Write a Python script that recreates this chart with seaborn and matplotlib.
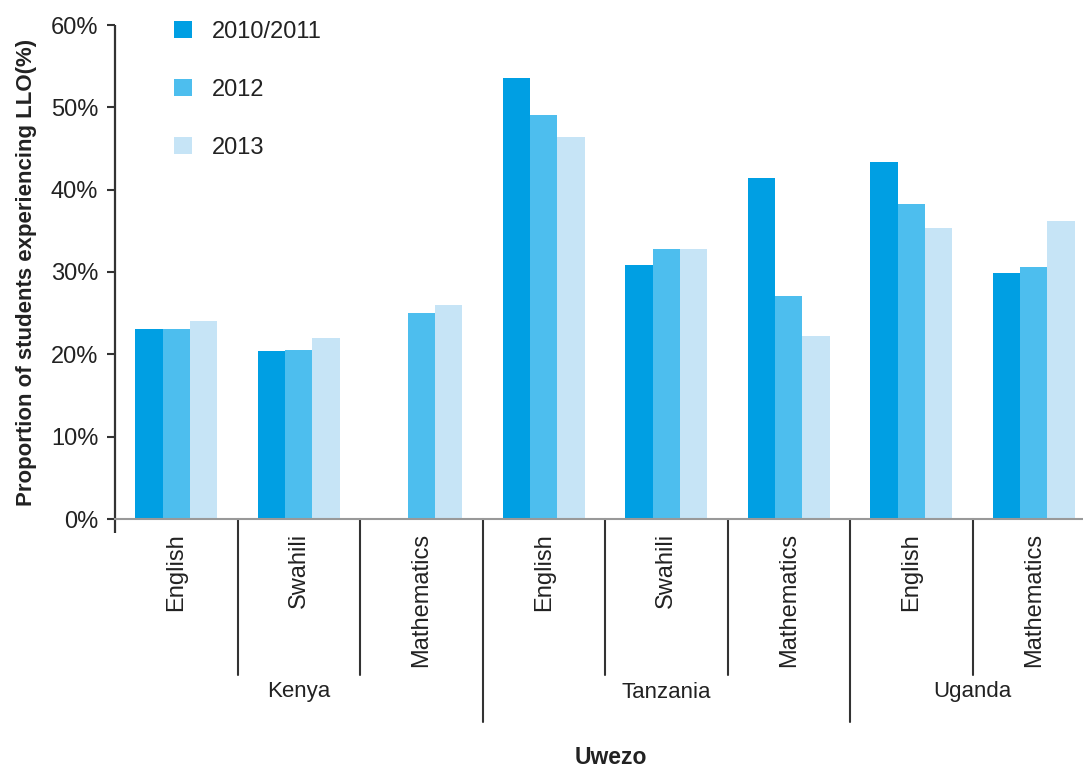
import matplotlib
matplotlib.use("Agg")
import matplotlib.pyplot as plt
import seaborn as sns
import pandas as pd
import numpy as np
from matplotlib.patches import Patch

countries = ["Kenya", "Kenya", "Kenya", "Tanzania", "Tanzania", "Tanzania", "Uganda", "Uganda"]
subjects = ["English", "Swahili", "Mathematics", "English", "Swahili", "Mathematics", "English", "Mathematics"]
years = ["2010/2011", "2012", "2013"]
v2010 = [23.1, 20.4, np.nan, 53.6, 30.9, 41.4, 43.3, 29.9]
v2012 = [23.1, 20.5, 25.0, 49.1, 32.8, 27.1, 38.2, 30.6]
v2013 = [24.1, 22.0, 26.0, 46.4, 32.8, 22.2, 35.4, 36.2]
yticks = [0, 10, 20, 30, 40, 50, 60]
colors = ["#009FE3", "#4DBEEE", "#C6E4F6"]

groups = [f"{c}|{s}" for c, s in zip(countries, subjects)]
rows = []
for yr, vals in zip(years, [v2010, v2012, v2013]):
    for g, v in zip(groups, vals):
        rows.append({"group": g, "year": yr, "value": v})
df = pd.DataFrame(rows)

sns.set_theme(style="white")
plt.rcParams["font.family"] = ["Liberation Sans", "DejaVu Sans"]

W, H = 1083, 767
fig = plt.figure(figsize=(W / 100, H / 100), dpi=100)
ax = fig.add_axes([115 / W, 1 - 519 / H, 1 - 115 / W, 494 / H])

sns.barplot(data=df, x="group", y="value", hue="year", order=groups, hue_order=years,
            palette=colors, width=0.67, saturation=1, linewidth=0, ax=ax, legend=False)

ax.set_ylim(0, 60)
ax.set_xlim(-0.5, 7.5 - 12 / 122.5)
ax.set_yticks(yticks)
ax.set_yticklabels([f"{t}%" for t in yticks], fontsize=17, color="#222222")
ax.set_xticks([])
ax.set_xlabel("")
ax.set_ylabel("Proportion of students experiencing LLO(%)", fontsize=16,
              fontweight="bold", color="#222222", labelpad=10)
for s in ["top", "right"]:
    ax.spines[s].set_visible(False)
ax.spines["left"].set_visible(False)
ax.spines["bottom"].set_color("#999999")
ax.spines["bottom"].set_linewidth(1.5)
ax.tick_params(axis="y", direction="out", length=6, width=1.5, color="#333333", pad=6, left=True)
# left axis line extended slightly below the baseline
ax.plot([0, 0], [-14 / 494, 1], transform=ax.transAxes, color="#333333", lw=1.6,
        clip_on=False, solid_capstyle="butt")

trans = ax.get_xaxis_transform()
# separators
for i in range(len(groups) - 1):
    x = i + 0.5
    big = countries[i] != countries[i + 1]
    yend = -(722 - 519) / 494 if big else -(675 - 519) / 494
    ax.plot([x, x], [0, yend], transform=trans, color="#333333", lw=1.5, clip_on=False)

# subject labels
for i, s in enumerate(subjects):
    ax.text(i, -14 / 494, s, transform=trans, rotation=90, ha="center", va="top",
            fontsize=17, color="#222222")

# country labels
uniq = []
for c in countries:
    if c not in uniq:
        uniq.append(c)
for c in uniq:
    idx = [i for i, cc in enumerate(countries) if cc == c]
    ax.text(np.mean(idx), -(692 - 519) / 494, c, transform=trans, ha="center", va="center",
            fontsize=16, color="#222222")

ax.text(3.55, -(757 - 519) / 494, "Uwezo", transform=trans, ha="center", va="center",
        fontsize=16.5, fontweight="bold", color="#222222")

handles = [Patch(facecolor=c, edgecolor="none") for c in colors]
fig.legend(handles, years, loc="upper left", bbox_to_anchor=(174 / W, 1 - 21 / H),
           bbox_transform=fig.transFigure, frameon=False, fontsize=17,
           handlelength=0.76, handleheight=0.76, handletextpad=0.85,
           labelspacing=1.52, borderpad=0, borderaxespad=0, labelcolor="#222222")

fig.savefig("out.png", dpi=100)
